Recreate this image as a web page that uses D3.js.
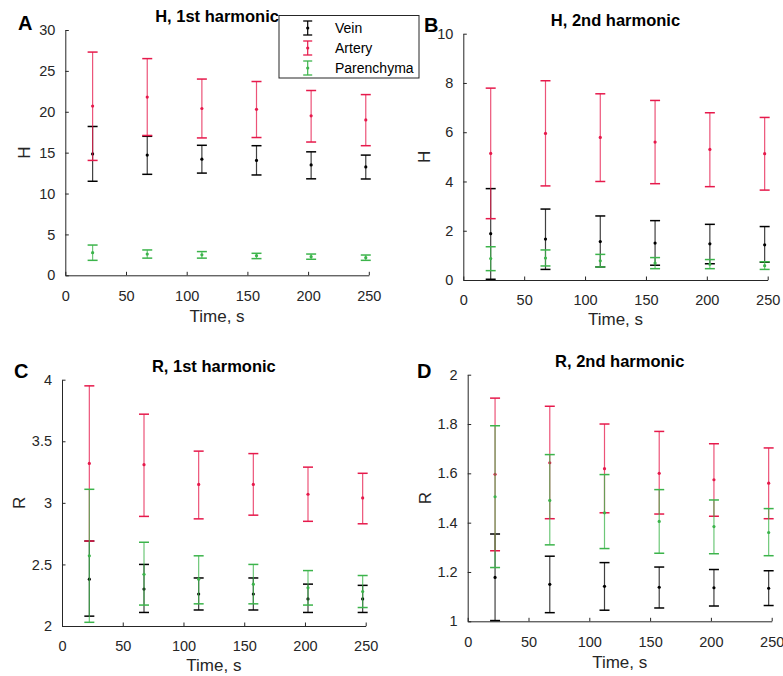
<!DOCTYPE html>
<html>
<head>
<meta charset="utf-8">
<script src="https://cdn.jsdelivr.net/npm/d3@7/dist/d3.min.js"></script>
<style>
  body { margin: 0; background: #fff; }
  svg { font-family: "Liberation Sans", Arial, Helvetica, sans-serif; }
  .tick text { fill: #262626; }
  .domain, .tick line { stroke: #262626; }
</style>
</head>
<body>
<div id="chart"></div>
<script>
// Time points shared by every panel
const times = [22.5, 67.5, 112.5, 157.5, 202.5, 247.5];
const xTicks = [0, 50, 100, 150, 200, 250];

const seriesNames = ["Vein", "Artery", "Parenchyma"];
const seriesColors = ["#000000", "#e6194b", "#3cb44b"];

// Panel A: H, 1st harmonic
const veinH1 = [14.85, 14.7, 14.2, 14.05, 13.5, 13.25];
const veinH1Lo = [11.5, 12.35, 12.5, 12.27, 11.8, 11.78];
const veinH1Hi = [18.2, 17.0, 15.9, 15.85, 15.1, 14.7];
const arteryH1 = [20.7, 21.8, 20.4, 20.3, 19.5, 19.0];
const arteryH1Lo = [14.05, 17.1, 16.8, 16.85, 16.3, 15.85];
const arteryH1Hi = [27.3, 26.5, 24.0, 23.7, 22.6, 22.1];
const parH1 = [2.77, 2.6, 2.5, 2.4, 2.28, 2.15];
const parH1Lo = [1.83, 2.1, 2.1, 2.04, 1.96, 1.83];
const parH1Hi = [3.7, 3.1, 2.9, 2.69, 2.6, 2.48];

// Panel B: H, 2nd harmonic
const veinH2 = [1.88, 1.66, 1.56, 1.5, 1.47, 1.43];
const veinH2Lo = [0.03, 0.43, 0.53, 0.6, 0.66, 0.72];
const veinH2Hi = [3.71, 2.88, 2.6, 2.41, 2.26, 2.17];
const arteryH2 = [5.14, 5.95, 5.79, 5.6, 5.3, 5.13];
const arteryH2Lo = [2.49, 3.82, 4.0, 3.91, 3.79, 3.65];
const arteryH2Hi = [7.79, 8.09, 7.56, 7.29, 6.79, 6.6];
const parH2 = [0.87, 0.89, 0.78, 0.69, 0.64, 0.58];
const parH2Lo = [0.38, 0.57, 0.53, 0.46, 0.46, 0.43];
const parH2Hi = [1.35, 1.22, 1.04, 0.91, 0.83, 0.74];

// Panel C: R, 1st harmonic
const veinR1 = [2.38, 2.30, 2.26, 2.26, 2.22, 2.22];
const veinR1Lo = [2.08, 2.11, 2.13, 2.13, 2.11, 2.11];
const veinR1Hi = [2.69, 2.50, 2.39, 2.39, 2.34, 2.33];
const arteryR1 = [3.32, 3.31, 3.15, 3.15, 3.07, 3.04];
const arteryR1Lo = [2.69, 2.89, 2.87, 2.90, 2.85, 2.83];
const arteryR1Hi = [3.95, 3.72, 3.42, 3.40, 3.29, 3.24];
const parR1 = [2.57, 2.42, 2.38, 2.34, 2.31, 2.28];
const parR1Lo = [2.03, 2.17, 2.18, 2.18, 2.17, 2.15];
const parR1Hi = [3.11, 2.68, 2.57, 2.50, 2.45, 2.41];

// Panel D: R, 2nd harmonic
const veinR2 = [1.178, 1.15, 1.142, 1.138, 1.136, 1.134];
const veinR2Lo = [1.003, 1.035, 1.045, 1.054, 1.062, 1.064];
const veinR2Hi = [1.354, 1.264, 1.238, 1.22, 1.21, 1.205];
const arteryR2 = [1.596, 1.643, 1.619, 1.60, 1.574, 1.56];
const arteryR2Lo = [1.286, 1.416, 1.44, 1.435, 1.426, 1.416];
const arteryR2Hi = [1.905, 1.872, 1.80, 1.77, 1.72, 1.703];
const parR2 = [1.505, 1.49, 1.44, 1.405, 1.384, 1.36];
const parR2Lo = [1.218, 1.31, 1.295, 1.276, 1.274, 1.266];
const parR2Hi = [1.793, 1.676, 1.595, 1.534, 1.492, 1.457];

// Panel layout (pixel box of each axes + label spots)
const panels = [
    { letter: "A", title: "H, 1st harmonic", ylabel: "H",
      x0: 65.3, x1: 368.8, yTop: 30, yBot: 275.3, yDomain: [0, 30], yTicks: [0, 5, 10, 15, 20, 25, 30],
      letterX: 18, letterY: 30, ylabelX: 24.5, xlabelY: 322,
      series: [[veinH1, veinH1Lo, veinH1Hi], [arteryH1, arteryH1Lo, arteryH1Hi], [parH1, parH1Lo, parH1Hi]] },
    { letter: "B", title: "H, 2nd harmonic", ylabel: "H",
      x0: 463.3, x1: 767.7, yTop: 33.7, yBot: 280, yDomain: [0, 10], yTicks: [0, 2, 4, 6, 8, 10],
      letterX: 424, letterY: 32, ylabelX: 424, xlabelY: 325,
      series: [[veinH2, veinH2Lo, veinH2Hi], [arteryH2, arteryH2Lo, arteryH2Hi], [parH2, parH2Lo, parH2Hi]] },
    { letter: "C", title: "R, 1st harmonic", ylabel: "R",
      x0: 62, x1: 365.7, yTop: 379.7, yBot: 626, yDomain: [2, 4], yTicks: [2, 2.5, 3, 3.5, 4],
      letterX: 14, letterY: 378, ylabelX: 19, xlabelY: 671,
      series: [[veinR1, veinR1Lo, veinR1Hi], [arteryR1, arteryR1Lo, arteryR1Hi], [parR1, parR1Lo, parR1Hi]] },
    { letter: "D", title: "R, 2nd harmonic", ylabel: "R",
      x0: 467.7, x1: 771.7, yTop: 374.7, yBot: 621.3, yDomain: [1, 2], yTicks: [1, 1.2, 1.4, 1.6, 1.8, 2],
      letterX: 417, letterY: 378, ylabelX: 425, xlabelY: 668,
      series: [[veinR2, veinR2Lo, veinR2Hi], [arteryR2, arteryR2Lo, arteryR2Hi], [parR2, parR2Lo, parR2Hi]] }
];

const width = 783, height = 676;
const capHalf = 5;

const svg = d3.select("#chart").append("svg")
    .attr("width", width)
    .attr("height", height);

panels.forEach(p => {
    const x = d3.scaleLinear().domain([0, 250]).range([p.x0, p.x1]);
    const y = d3.scaleLinear().domain(p.yDomain).range([p.yBot, p.yTop]);
    const g = svg.append("g");

    // axes, ticks pointing inward like matlab
    const xAxis = g.append("g")
        .attr("transform", `translate(0,${p.yBot})`)
        .call(d3.axisBottom(x).tickValues(xTicks).tickSizeInner(-3.5).tickSizeOuter(0).tickPadding(15));
    const yAxis = g.append("g")
        .attr("transform", `translate(${p.x0},0)`)
        .call(d3.axisLeft(y).tickValues(p.yTicks).tickSizeInner(-3.5).tickSizeOuter(0).tickPadding(10)
            .tickFormat(d3.format("~g")));
    [xAxis, yAxis].forEach(a => {
        a.selectAll("text").attr("font-size", 14.5).attr("font-family", null);
        a.select(".domain").attr("stroke-width", 1);
    });

    // error bars, drawn vein -> artery -> parenchyma
    p.series.forEach((s, i) => {
        const [mid, lo, hi] = s;
        const color = seriesColors[i];
        const eg = g.append("g");
        eg.selectAll("line.bar").data(times).enter().append("line")
            .attr("x1", d => x(d)).attr("x2", d => x(d))
            .attr("y1", (d, j) => y(lo[j])).attr("y2", (d, j) => y(hi[j]))
            .attr("stroke", color).attr("stroke-width", 1.2).attr("stroke-opacity", 0.75);
        [lo, hi].forEach(arr => {
            eg.selectAll(null).data(times).enter().append("line")
                .attr("x1", d => x(d) - capHalf).attr("x2", d => x(d) + capHalf)
                .attr("y1", (d, j) => y(arr[j])).attr("y2", (d, j) => y(arr[j]))
                .attr("stroke", color).attr("stroke-width", 1.5);
        });
        eg.selectAll("circle").data(times).enter().append("circle")
            .attr("cx", d => x(d)).attr("cy", (d, j) => y(mid[j]))
            .attr("r", 1.6).attr("fill", color);
    });

    const cx = (p.x0 + p.x1) / 2;
    // title
    g.append("text")
        .attr("x", cx).attr("y", p.yTop - 8)
        .attr("text-anchor", "middle")
        .attr("font-weight", "bold").attr("font-size", 16.5)
        .text(p.title);
    // x label
    g.append("text")
        .attr("x", cx).attr("y", p.xlabelY)
        .attr("text-anchor", "middle")
        .attr("font-size", 17).attr("fill", "#262626")
        .text("Time, s");
    // y label
    g.append("text")
        .attr("transform", `translate(${p.ylabelX},${(p.yTop + p.yBot) / 2}) rotate(-90)`)
        .attr("text-anchor", "middle").attr("dy", "0.35em")
        .attr("font-size", 17).attr("fill", "#262626")
        .text(p.ylabel);
    // panel letter
    g.append("text")
        .attr("x", p.letterX).attr("y", p.letterY)
        .attr("font-weight", "bold").attr("font-size", 20)
        .text(p.letter);
});

// Legend box on top of panel A title
const legend = svg.append("g");
legend.append("rect")
    .attr("x", 279).attr("y", 15.5).attr("width", 140).attr("height", 62.5)
    .attr("fill", "#fff").attr("stroke", "#262626").attr("stroke-width", 1);
seriesNames.forEach((name, i) => {
    const ly = 28 + i * 20;
    const c = seriesColors[i];
    const lg = legend.append("g");
    lg.append("line").attr("x1", 307.7).attr("x2", 307.7).attr("y1", ly - 7).attr("y2", ly + 7)
        .attr("stroke", c).attr("stroke-width", 1.2);
    [ly - 7, ly + 7].forEach(yy => {
        lg.append("line").attr("x1", 303.2).attr("x2", 312.2).attr("y1", yy).attr("y2", yy)
            .attr("stroke", c).attr("stroke-width", 1.3);
    });
    lg.append("circle").attr("cx", 307.7).attr("cy", ly).attr("r", 1.6).attr("fill", c);
    lg.append("text").attr("x", 335).attr("y", ly + 5)
        .attr("font-size", 14).attr("fill", "#000")
        .text(name);
});
</script>
</body>
</html>
